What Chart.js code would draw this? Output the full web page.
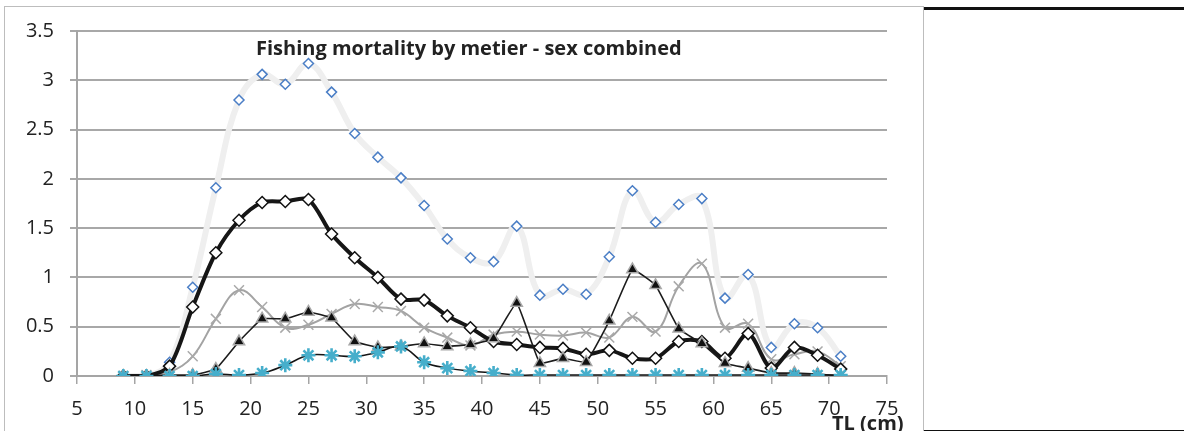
<!DOCTYPE html>
<html>
<head>
<meta charset="utf-8">
<script src="https://cdn.jsdelivr.net/npm/chart.js@4.4.1/dist/chart.umd.min.js"></script>
<style>
    html, body { margin: 0; padding: 0; background: #fff; overflow: hidden; }
    #pagina { position: relative; width: 1184px; height: 431px; overflow: hidden; }
    #caixa { position: absolute; left: 4px; top: 6px; width: 918px; height: 440px; border: 1px solid #bdbdbd; }
    #painel { position: absolute; left: 924px; top: 7px; width: 260px; height: 420px; border-top: 3px solid #111; border-bottom: 2px solid #111; }
    #grafico { position: absolute; left: 0; top: 0; }
    #titulo { position: absolute; left: 256px; top: 34px; font: bold 20px "Open Sans", sans-serif; color: #222; white-space: nowrap; }
    #eixoX { position: absolute; left: 832px; top: 409px; font: bold 20px "Open Sans", sans-serif; color: #222; white-space: nowrap; }
</style>
</head>
<body>
<div id="pagina">
    <div id="caixa"></div>
    <div id="painel"></div>
    <canvas id="grafico" width="1184" height="431"></canvas>
    <div id="titulo">Fishing mortality by metier - sex combined</div>
    <div id="eixoX">TL (cm)</div>
</div>
<script>
// comprimento total (cm)
const comprimentos = [9, 11, 13, 15, 17, 19, 21, 23, 25, 27, 29, 31, 33, 35, 37, 39,
    41, 43, 45, 47, 49, 51, 53, 55, 57, 59, 61, 63, 65, 67, 69, 71];

const ticksX = [5, 10, 15, 20, 25, 30, 35, 40, 45, 50, 55, 60, 65, 70, 75];
const ticksY = [0, 0.5, 1, 1.5, 2, 2.5, 3, 3.5];

// mortalidade por metier
const serieAzul = [0, 0, 0.14, 0.90, 1.91, 2.80, 3.06, 2.96, 3.17, 2.88, 2.46, 2.22, 2.01, 1.73, 1.39, 1.20,
    1.16, 1.52, 0.82, 0.88, 0.83, 1.21, 1.88, 1.56, 1.74, 1.80, 0.79, 1.03, 0.29, 0.53, 0.49, 0.20];

const serieTotal = [0, 0, 0.10, 0.70, 1.25, 1.58, 1.76, 1.77, 1.79, 1.44, 1.20, 1.00, 0.78, 0.77, 0.61, 0.49,
    0.35, 0.32, 0.29, 0.28, 0.22, 0.26, 0.18, 0.18, 0.35, 0.35, 0.18, 0.43, 0.08, 0.29, 0.21, 0.07];

const serieTriangulo = [0, 0, 0.01, 0.01, 0.07, 0.35, 0.58, 0.58, 0.65, 0.59, 0.35, 0.29, 0.30, 0.33, 0.30, 0.32,
    0.38, 0.74, 0.13, 0.18, 0.14, 0.56, 1.08, 0.92, 0.48, 0.33, 0.13, 0.08, 0.03, 0.03, 0.02, 0];

const serieCinza = [0, 0.01, 0.04, 0.20, 0.58, 0.87, 0.70, 0.49, 0.52, 0.63, 0.73, 0.70, 0.66, 0.49, 0.39, 0.31,
    0.42, 0.45, 0.42, 0.41, 0.44, 0.39, 0.60, 0.45, 0.91, 1.14, 0.49, 0.53, 0.17, 0.22, 0.25, 0.10];

const serieEstrela = [0, 0, 0, 0, 0.02, 0.01, 0.03, 0.11, 0.21, 0.21, 0.20, 0.24, 0.30, 0.14, 0.08, 0.05,
    0.03, 0.01, 0.01, 0.01, 0.01, 0.01, 0.01, 0.01, 0.01, 0.01, 0.01, 0.01, 0.01, 0.01, 0.01, 0.01];

const pontos = valores => valores.map((v, i) => ({ x: comprimentos[i], y: v }));

const ctx = document.getElementById("grafico").getContext("2d");

new Chart(ctx, {
    type: "line",
    data: {
        datasets: [
            {
                data: pontos(serieEstrela),
                borderColor: "#151515",
                borderWidth: 1.5,
                tension: 0.4,
                pointStyle: "star",
                pointRadius: 7,
                pointBorderColor: "#46aecb",
                pointBorderWidth: 2.6
            },
            {
                data: pontos(serieTriangulo),
                borderColor: "#1c1c1c",
                borderWidth: 1.6,
                tension: 0.1,
                pointStyle: "triangle",
                pointRadius: 6.5,
                pointBackgroundColor: "#111",
                pointBorderColor: "#a8a8a8",
                pointBorderWidth: 1.5
            },
            {
                data: pontos(serieTotal),
                borderColor: "#161616",
                borderWidth: 4,
                tension: 0.3,
                pointStyle: "rectRot",
                pointRadius: 6,
                pointBackgroundColor: "#fff",
                pointBorderColor: "#111",
                pointBorderWidth: 1.5
            },
            {
                data: pontos(serieCinza),
                borderColor: "#a3a3a3",
                borderWidth: 2,
                tension: 0.4,
                pointStyle: "crossRot",
                pointRadius: 7,
                pointBorderColor: "#a9a9a9",
                pointBorderWidth: 1.5
            },
            {
                data: pontos(serieAzul),
                borderColor: "#efefef",
                borderWidth: 6,
                tension: 0.4,
                pointStyle: "rectRot",
                pointRadius: 5,
                pointBackgroundColor: "#fff",
                pointBorderColor: "#4a7ec6",
                pointBorderWidth: 1.5
            }
        ]
    },
    options: {
        responsive: false,
        animation: false,
        events: [],
        layout: {
            padding: { left: 0, top: 31, right: 297, bottom: 0 }
        },
        plugins: {
            legend: { display: false },
            tooltip: { enabled: false }
        },
        scales: {
            x: {
                type: "linear",
                min: 5,
                max: 75,
                afterFit: escala => { escala.height = 55; },
                afterBuildTicks: escala => { escala.ticks = ticksX.map(v => ({ value: v })); },
                grid: {
                    drawOnChartArea: false,
                    drawTicks: true,
                    tickLength: 8,
                    color: "#a5a5a5",
                    lineWidth: 1.5
                },
                border: { color: "#a5a5a5", width: 2 },
                ticks: {
                    autoSkip: false,
                    maxRotation: 0,
                    padding: 13,
                    color: "#222",
                    font: { family: "Open Sans", size: 20 },
                    callback: v => String(v)
                }
            },
            y: {
                min: 0,
                max: 3.5,
                afterFit: escala => { escala.width = 77; },
                afterBuildTicks: escala => { escala.ticks = ticksY.map(v => ({ value: v })); },
                grid: {
                    color: "#a8a8a8",
                    lineWidth: 2,
                    tickLength: 7
                },
                border: { color: "#a5a5a5", width: 2 },
                ticks: {
                    padding: 16,
                    color: "#222",
                    font: { family: "Open Sans", size: 20 },
                    callback: v => String(v)
                }
            }
        }
    }
});
</script>
</body>
</html>
